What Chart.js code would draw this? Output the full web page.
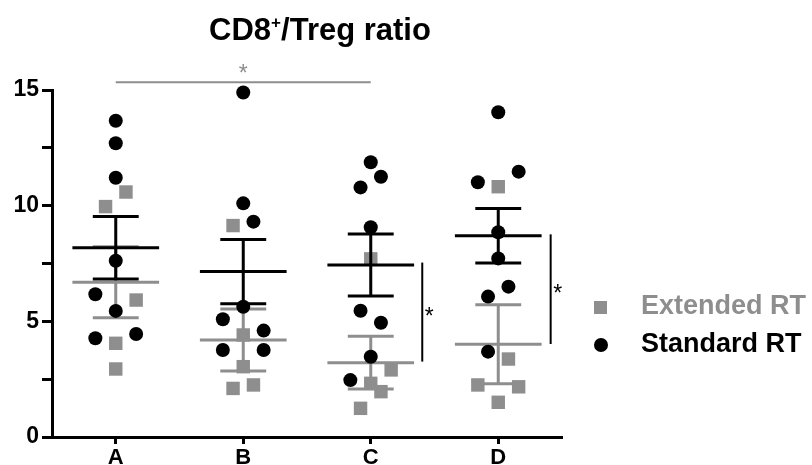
<!DOCTYPE html>
<html>
<head>
<meta charset="utf-8">
<script src="https://cdn.jsdelivr.net/npm/chart.js@4/dist/chart.umd.min.js"></script>
<style>
  html, body { margin: 0; padding: 0; background: #fff; }
</style>
</head>
<body>
<canvas id="chart" width="812" height="465"></canvas>
<script>
// groups on the x axis
const groups = ['A', 'B', 'C', 'D'];
const yTickLabels = [0, 5, 10, 15];

// Standard RT (black circles), x = group position with jitter
const standardX = [1, 1, 1, 1, 0.84, 1, 0.84, 1.16,
                   2, 2, 2.08, 2, 1.84, 2.16, 1.84, 2.16,
                   3, 3.08, 2.92, 3, 2.92, 3.08, 3, 2.84,
                   4, 3.84, 4.16, 4, 4, 4.08, 3.92, 3.92];
const standardY = [13.67, 12.7, 11.21, 7.62, 6.17, 5.45, 4.27, 4.45,
                   14.89, 10.1, 9.31, 5.63, 5.09, 4.6, 3.76, 3.76,
                   11.88, 11.25, 10.79, 9.07, 5.46, 4.94, 3.47, 2.46,
                   14.04, 11.01, 11.47, 8.85, 7.72, 6.5, 6.07, 3.69];

// Extended RT (grey squares)
const extendedX = [1.08, 0.92, 1.16, 1, 1,
                   1.92, 2, 2, 1.92, 2.08,
                   3, 3.16, 3, 3.08, 2.92,
                   4, 4.08, 3.84, 4.16, 4];
const extendedY = [10.59, 9.96, 5.92, 4.05, 2.94,
                   9.14, 4.41, 3.04, 2.1, 2.25,
                   7.7, 2.9, 2.32, 1.96, 1.24,
                   10.82, 3.37, 2.25, 2.17, 1.5];

// mean +/- SEM per group
const standardMean = [8.18, 7.15, 7.44, 8.70];
const standardSem = [1.35, 1.39, 1.34, 1.18];
const extendedMean = [6.69, 4.19, 3.21, 4.01];
const extendedSem = [1.53, 1.34, 1.14, 1.71];

// significance marks
const topBracket = { from: 1, to: 3, y: 15.33 };
const sideBrackets = [
  { x: 3.404, y1: 7.54, y2: 3.26 },
  { x: 4.411, y1: 8.76, y2: 4.02 }
];

const grey = '#8e8e8e';
const black = '#000';
const fontFam = '"Liberation Sans", Arial, sans-serif';

function toPoints(xs, ys) {
  return xs.map((x, i) => ({ x: x, y: ys[i] }));
}

function drawBars(ctx, xs, ys, means, sems, color) {
  ctx.save();
  ctx.strokeStyle = color;
  ctx.lineWidth = 3;
  means.forEach((m, i) => {
    const c = i + 1;
    const top = ys.getPixelForValue(m + sems[i]);
    const bot = ys.getPixelForValue(m - sems[i]);
    const mid = ys.getPixelForValue(m);
    ctx.beginPath();
    ctx.moveTo(xs.getPixelForValue(c - 0.34), mid);
    ctx.lineTo(xs.getPixelForValue(c + 0.34), mid);
    ctx.moveTo(xs.getPixelForValue(c - 0.18), top);
    ctx.lineTo(xs.getPixelForValue(c + 0.18), top);
    ctx.moveTo(xs.getPixelForValue(c - 0.18), bot);
    ctx.lineTo(xs.getPixelForValue(c + 0.18), bot);
    ctx.moveTo(xs.getPixelForValue(c), top);
    ctx.lineTo(xs.getPixelForValue(c), bot);
    ctx.stroke();
  });
  ctx.restore();
}

const extras = {
  id: 'extras',
  beforeDatasetDraw(chart, args) {
    const { x, y } = chart.scales;
    if (args.index === 1) drawBars(chart.ctx, x, y, extendedMean, extendedSem, grey);
    if (args.index === 0) drawBars(chart.ctx, x, y, standardMean, standardSem, black);
  },
  afterDraw(chart) {
    const ctx = chart.ctx;
    const { x, y } = chart.scales;
    ctx.save();

    // title with superscript +
    ctx.fillStyle = black;
    ctx.textBaseline = 'alphabetic';
    ctx.textAlign = 'left';
    const big = 'bold 31px ' + fontFam, small = 'bold 17px ' + fontFam;
    ctx.font = big; const w1 = ctx.measureText('CD8').width;
    ctx.font = small; const w2 = ctx.measureText('+').width;
    ctx.font = big; const w3 = ctx.measureText('/Treg ratio').width;
    let tx = 320 - (w1 + w2 + w3) / 2;
    const base = 40;
    ctx.font = big; ctx.fillText('CD8', tx, base); tx += w1;
    ctx.font = small; ctx.fillText('+', tx, base - 12); tx += w2;
    ctx.font = big; ctx.fillText('/Treg ratio', tx, base);

    // top bracket
    ctx.strokeStyle = grey;
    ctx.lineWidth = 2;
    ctx.beginPath();
    const by = y.getPixelForValue(topBracket.y);
    ctx.moveTo(x.getPixelForValue(topBracket.from), by);
    ctx.lineTo(x.getPixelForValue(topBracket.to), by);
    ctx.stroke();
    ctx.fillStyle = grey;
    ctx.font = '23px ' + fontFam;
    ctx.textAlign = 'center';
    ctx.fillText('*', x.getPixelForValue((topBracket.from + topBracket.to) / 2), by - 1);

    // side brackets
    ctx.strokeStyle = black;
    ctx.fillStyle = black;
    sideBrackets.forEach(b => {
      const bx = x.getPixelForValue(b.x);
      const y1 = y.getPixelForValue(b.y1), y2 = y.getPixelForValue(b.y2);
      ctx.beginPath();
      ctx.moveTo(bx, y1);
      ctx.lineTo(bx, y2);
      ctx.stroke();
      ctx.fillText('*', bx + 7, (y1 + y2) / 2 + 12);
    });

    // legend
    ctx.textAlign = 'left';
    ctx.textBaseline = 'middle';
    ctx.font = 'bold 27px ' + fontFam;
    ctx.fillStyle = grey;
    ctx.fillRect(594, 301, 13, 13);
    ctx.fillText('Extended RT', 641, 307);
    ctx.fillStyle = black;
    ctx.beginPath();
    ctx.arc(601, 345, 7, 0, Math.PI * 2);
    ctx.fill();
    ctx.fillText('Standard RT', 641, 345);
    ctx.restore();
  }
};

new Chart(document.getElementById('chart'), {
  type: 'scatter',
  data: {
    datasets: [
      {
        label: 'Standard RT',
        data: toPoints(standardX, standardY),
        pointStyle: 'circle',
        pointRadius: 7,
        backgroundColor: black,
        borderColor: black,
        borderWidth: 0,
        clip: false
      },
      {
        label: 'Extended RT',
        data: toPoints(extendedX, extendedY),
        pointStyle: 'rect',
        pointRadius: 9.5,
        backgroundColor: grey,
        borderColor: grey,
        borderWidth: 0,
        clip: false
      }
    ]
  },
  options: {
    responsive: false,
    animation: false,
    layout: { padding: { top: 90, right: 250, left: 0, bottom: 0 } },
    plugins: { legend: { display: false }, tooltip: { enabled: false } },
    scales: {
      x: {
        type: 'linear',
        min: 0.5,
        max: 4.5,
        afterFit(s) { s.height = 28; },
        afterBuildTicks(s) { s.ticks = groups.map((g, i) => ({ value: i + 1 })); },
        ticks: {
          autoSkip: false,
          maxRotation: 0,
          padding: 1,
          color: black,
          font: { family: fontFam, size: 22, weight: 'bold' },
          callback: v => groups[v - 1]
        },
        grid: { drawOnChartArea: false, drawTicks: true, tickLength: 7, tickWidth: 3, tickColor: black },
        border: { display: true, width: 3, color: black }
      },
      y: {
        min: 0,
        max: 15,
        afterFit(s) { s.width = 52; },
        ticks: {
          stepSize: 2.5,
          padding: 3,
          color: black,
          font: { family: fontFam, size: 23, weight: 'bold' },
          callback: v => yTickLabels.includes(v) ? String(v) : ''
        },
        grid: { drawOnChartArea: false, drawTicks: true, tickLength: 10, tickWidth: 3, tickColor: black },
        border: { display: true, width: 3, color: black }
      }
    }
  },
  plugins: [extras]
});
</script>
</body>
</html>
